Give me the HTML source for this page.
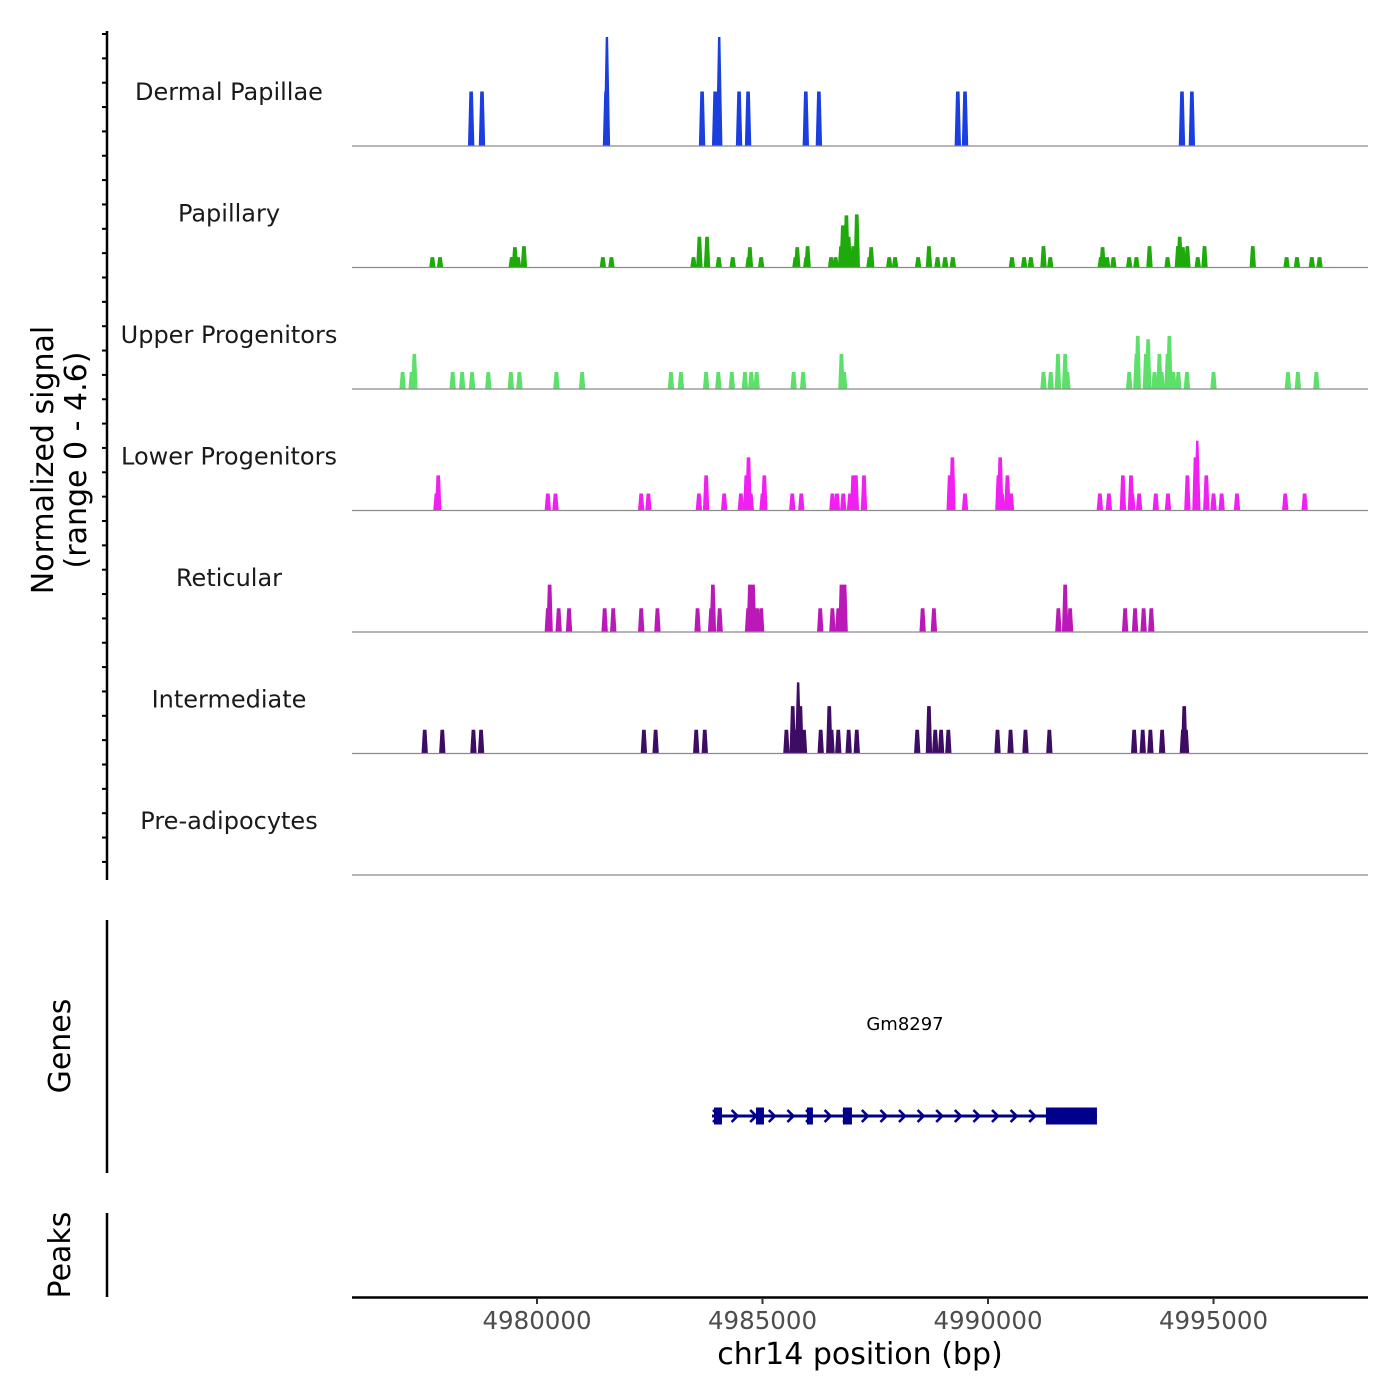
<!DOCTYPE html>
<html><head><meta charset="utf-8"><style>
html,body{margin:0;padding:0;background:#fff}
svg{display:block;font-family:"DejaVu Sans","Liberation Sans",sans-serif}
</style></head><body>
<svg id="chart" width="1400" height="1400" viewBox="0 0 1400 1400" xmlns="http://www.w3.org/2000/svg">
<g id="g-axes"></g>
<g id="g-tracks"></g>
<g id="g-gene"></g>
</svg>
<script>
// ---- data (positions in kb on chr14, signal values 0-4.6) ----
const trackNames = ["Dermal Papillae","Papillary","Upper Progenitors","Lower Progenitors","Reticular","Intermediate","Pre-adipocytes"];
const trackColors = ["#1a3ee0","#1eaa0a","#5ce06a","#f020f0","#bb18b8","#3d0c63","#888888"];
const dpPos = [4978.54,4978.78,4981.53,4981.55,4983.66,4983.95,4984.03,4984.04,4984.48,4984.68,4985.96,4986.25,4989.33,4989.49,4994.30,4994.52];
const dpVal = [2.3,2.3,2.3,4.6,2.3,2.3,2.3,4.6,2.3,2.3,2.3,2.3,2.3,2.3,2.3,2.3];
const papPos = [4977.68,4977.85,4979.44,4979.51,4979.58,4979.71,4981.46,4981.65,4983.47,4983.60,4983.77,4984.03,4984.34,4984.69,4984.72,4984.97,4985.73,4985.77,4985.97,4986.00,4986.52,4986.62,4986.74,4986.78,4986.86,4986.91,4987.01,4987.09,4987.37,4987.41,4987.81,4987.94,4988.45,4988.69,4988.88,4989.05,4989.22,4990.53,4990.80,4990.95,4991.23,4991.38,4992.50,4992.54,4992.64,4992.78,4993.13,4993.29,4993.58,4993.98,4994.21,4994.25,4994.32,4994.42,4994.65,4994.80,4995.87,4996.62,4996.85,4997.18,4997.35];
const papVal = [0.44,0.44,0.44,0.86,0.44,0.9,0.44,0.44,0.44,1.3,1.3,0.44,0.44,0.44,0.86,0.44,0.44,0.86,0.44,0.9,0.44,0.44,0.9,1.78,2.2,1.3,0.9,2.24,0.44,0.86,0.44,0.44,0.44,0.9,0.44,0.44,0.44,0.44,0.44,0.44,0.9,0.44,0.44,0.86,0.44,0.44,0.44,0.44,0.9,0.44,0.9,1.3,0.86,0.9,0.44,0.9,0.9,0.44,0.44,0.44,0.44];
const upPos = [4977.02,4977.22,4977.28,4978.13,4978.34,4978.56,4978.92,4979.42,4979.61,4980.43,4981.00,4982.97,4983.19,4983.75,4984.02,4984.32,4984.61,4984.75,4984.87,4985.69,4985.90,4986.75,4986.81,4991.23,4991.39,4991.55,4991.71,4991.76,4993.13,4993.29,4993.32,4993.50,4993.55,4993.69,4993.80,4993.85,4993.98,4994.02,4994.11,4994.22,4994.41,4995.00,4996.65,4996.87,4997.28];
const upVal = [0.72,0.72,1.48,0.72,0.72,0.72,0.72,0.72,0.72,0.72,0.72,0.72,0.72,0.72,0.72,0.72,0.72,0.72,0.72,0.72,0.72,1.48,0.72,0.72,0.72,1.48,1.48,0.72,0.72,1.48,2.24,1.48,2.1,0.72,1.48,0.72,1.48,2.24,0.72,0.72,0.72,0.72,0.72,0.72,0.72];
const lpPos = [4977.77,4977.81,4980.24,4980.41,4982.31,4982.47,4983.59,4983.75,4984.15,4984.52,4984.64,4984.69,4984.74,4985.00,4985.04,4985.66,4985.86,4986.55,4986.65,4986.79,4986.94,4987.01,4987.07,4987.25,4989.15,4989.21,4989.49,4990.23,4990.27,4990.31,4990.43,4990.51,4992.48,4992.68,4992.99,4993.17,4993.20,4993.35,4993.72,4993.99,4994.42,4994.60,4994.64,4994.84,4995.00,4995.18,4995.52,4996.59,4997.02];
const lpVal = [0.72,1.48,0.72,0.72,0.72,0.72,0.72,1.48,0.72,0.72,1.48,2.24,0.72,0.72,1.48,0.72,0.72,0.72,0.72,0.72,0.72,1.48,1.48,1.48,1.48,2.24,0.72,1.48,2.24,0.72,1.48,0.72,0.72,0.72,1.48,1.48,0.72,0.72,0.72,0.72,1.48,2.24,2.95,1.48,0.72,0.72,0.72,0.72,0.72];
const retPos = [4980.24,4980.28,4980.48,4980.71,4981.50,4981.69,4982.31,4982.67,4983.56,4983.86,4983.90,4984.05,4984.68,4984.72,4984.79,4984.88,4984.97,4986.28,4986.55,4986.68,4986.75,4986.82,4988.55,4988.80,4991.56,4991.71,4991.82,4993.04,4993.26,4993.45,4993.62];
const retVal = [1,2,1,1,1,1,1,1,1,1,2,1,1,2,2,1,1,1,1,1,2,2,1,1,1,2,1,1,1,1,1];
const intPos = [4977.51,4977.90,4978.59,4978.76,4982.37,4982.63,4983.53,4983.72,4985.53,4985.67,4985.73,4985.79,4985.84,4985.92,4986.29,4986.48,4986.53,4986.68,4986.91,4987.09,4988.43,4988.69,4988.83,4988.96,4989.12,4990.21,4990.50,4990.83,4991.36,4993.24,4993.43,4993.60,4993.86,4994.32,4994.35,4994.39];
const intVal = [1,1,1,1,1,1,1,1,1,2,1,3.0,2,1,1,2,1,1,1,1,1,2,1,1,1,1,1,1,1,1,1,1,1,1,2,1];
const prePos = [];
const preVal = [];
const xTicks = [4980000,4985000,4990000,4995000];
const geneStartKb = 4983.88, geneEndKb = 4992.415;
const exonStarts = [4983.924,4984.855,4985.985,4986.783,4991.284];
const exonEnds = [4984.101,4985.032,4986.118,4986.983,4992.415];

// ---- scales ----
const X0 = 352, X1 = 1368, D0 = 4975898, D1 = 4998425;
function xs(bp){ return X0 + (bp - D0) * (X1 - X0) / (D1 - D0); }
function xk(kb){ return xs(kb * 1000); }
const TRACK_TOP = 146, TRACK_H = 121.5, PX_PER_UNIT = 109 / 4.6;
function ys(i, v){ return TRACK_TOP + i * TRACK_H - v * PX_PER_UNIT; }

const NS = "http://www.w3.org/2000/svg";
function mk(tag, attrs, parent){ const e = document.createElementNS(NS, tag); for (const k in attrs) e.setAttribute(k, attrs[k]); parent.appendChild(e); return e; }

const axes = document.getElementById('g-axes');
const tracks = document.getElementById('g-tracks');
const geneG = document.getElementById('g-gene');

let l = mk('line', {x1:107, y1:31, x2:107, y2:880, stroke:'#000', 'stroke-width':2.5}, axes);


for (let y = 34; y <= 878; y += 24.35) {
  const t = mk('line', {x1:102, y1:y, x2:107, y2:y, stroke:'#000', 'stroke-width':2}, axes);
  
  
}
let yt = mk('text', {x:0, y:0, 'font-size':30, 'text-anchor':'middle', fill:'#000', transform:'translate(53,460) rotate(-90)'}, axes);
yt.textContent = 'Normalized signal';


let yt2 = mk('text', {x:0, y:0, 'font-size':30, 'text-anchor':'middle', fill:'#000', transform:'translate(86,460) rotate(-90)'}, axes);
yt2.textContent = '(range 0 - 4.6)';



let ga = mk('line', {x1:107, y1:920, x2:107, y2:1173, stroke:'#000', 'stroke-width':2.5}, axes);


let gt = mk('text', {x:0, y:0, 'font-size':30, 'text-anchor':'middle', fill:'#000', transform:'translate(70,1046) rotate(-90)'}, axes);
gt.textContent = 'Genes';


let pa = mk('line', {x1:107, y1:1213, x2:107, y2:1297, stroke:'#000', 'stroke-width':2.5}, axes);


let pt = mk('text', {x:0, y:0, 'font-size':30, 'text-anchor':'middle', fill:'#000', transform:'translate(70,1255) rotate(-90)'}, axes);
pt.textContent = 'Peaks';



let xa = mk('line', {x1:352, y1:1297.5, x2:1368, y2:1297.5, stroke:'#000', 'stroke-width':2.5}, axes);


xTicks.forEach(v => {
  const x = xs(v);
  const tk = mk('line', {x1:x, y1:1298, x2:x, y2:1304, stroke:'#333', 'stroke-width':2}, axes);
  
  
  const tl = mk('text', {x:x, y:1329, 'font-size':24.5, 'text-anchor':'middle', fill:'#4d4d4d'}, axes);
  tl.textContent = String(v);
  
  
});
let xt = mk('text', {x:860, y:1364, 'font-size':30, 'text-anchor':'middle', fill:'#000'}, axes);
xt.textContent = 'chr14 position (bp)';



const allPos = [dpPos, papPos, upPos, lpPos, retPos, intPos, prePos];
const allVal = [dpVal, papVal, upVal, lpVal, retVal, intVal, preVal];
trackNames.forEach((name, i) => {
  const g = mk('g', {}, tracks);
  
  
  const lab = mk('text', {x:229, y:ys(i, 0) - 46, 'font-size':24, 'text-anchor':'middle', fill:'#1a1a1a'}, g);
  lab.textContent = name;
  
  
  const base = ys(i, 0);
  allPos[i].forEach((p, j) => {
    const x = xk(p), top = ys(i, allVal[i][j]);
    const w = allVal[i][j] > 2.5 ? 1.2 : 1.8;
    const pg = mk('polygon', {points:`${x-3.2},${base} ${x-w},${top} ${x+w},${top} ${x+3.2},${base}`, fill:trackColors[i]}, g);
    
    
  });
  const bl = mk('line', {x1:352, y1:base, x2:1368, y2:base, stroke:'#8a8a8a', 'stroke-width':1.2}, g);
  
  
});

const gy = 1116;
const gx0 = xk(geneStartKb), gx1 = xk(geneEndKb);
let gl = mk('line', {x1:gx0, y1:gy, x2:gx1, y2:gy, stroke:'#00008b', 'stroke-width':3}, geneG);


for (let x = gx0 + 4; x < gx1 - 20; x += 18.6) {
  const c = mk('polyline', {points:`${x-3},${gy-6} ${x+3},${gy} ${x-3},${gy+6}`, fill:'none', stroke:'#00008b', 'stroke-width':2.6}, geneG);
  
  
}
exonStarts.forEach((s, i) => {
  const x0 = xk(s), x1 = xk(exonEnds[i]);
  const r = mk('rect', {x:x0, y:gy - 8.5, width:x1 - x0, height:17, fill:'#00008b'}, geneG);
  
  
});
let gn = mk('text', {x:905, y:1030, 'font-size':18, 'text-anchor':'middle', fill:'#000'}, geneG);
gn.textContent = 'Gm8297';


</script>
</body></html>
